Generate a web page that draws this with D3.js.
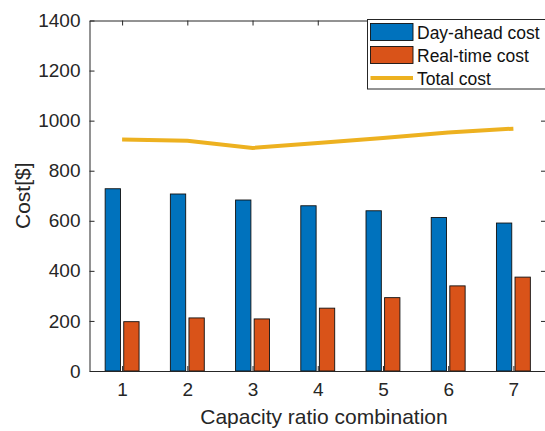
<!DOCTYPE html>
<html>
<head>
<meta charset="utf-8">
<script src="https://cdn.jsdelivr.net/npm/d3@7"></script>
<style>
  html, body { margin: 0; padding: 0; background: #fff; }
  svg { display: block; font-family: "Liberation Sans", Arial, sans-serif; }
</style>
</head>
<body>
<svg id="chart" width="545" height="431"></svg>
<script>
// combinations 1..7, costs in $
const combos    = [1, 2, 3, 4, 5, 6, 7];
const dayAhead  = [728, 707, 683, 660, 640, 613, 591];
const realTime  = [197, 212, 208, 251, 293, 340, 375];
const totalCost = [925, 920, 891, 911, 931, 953, 968];
const yTicks    = [0, 200, 400, 600, 800, 1000, 1200, 1400];

const BLUE = "#0072BD", ORANGE = "#D95319", YELLOW = "#EDB120", INK = "#262626";

const svg = d3.select("#chart");
const plot = { left: 89.5, right: 546, top: 20.5, bottom: 371 };

const x = d3.scaleLinear().domain([0.5, 7.5]).range([plot.left, plot.right]);
const y = d3.scaleLinear().domain([0, 1400]).range([plot.bottom, plot.top]);

// bars: day-ahead just left of the tick, real-time just right
const half = 0.025, w = 0.235;
const series = [
  { vals: dayAhead, color: BLUE,   x0: c => c - half - w },
  { vals: realTime, color: ORANGE, x0: c => c + half }
];
series.forEach(s => {
  svg.append("g").selectAll("rect").data(combos).join("rect")
    .attr("x", c => x(s.x0(c)))
    .attr("width", x(w) - x(0))
    .attr("y", (c, i) => y(s.vals[i]))
    .attr("height", (c, i) => y(0) - y(s.vals[i]))
    .attr("fill", s.color)
    .attr("stroke", "#111").attr("stroke-width", 0.9);
});

// total cost line
svg.append("path")
  .datum(combos)
  .attr("fill", "none").attr("stroke", YELLOW).attr("stroke-width", 4)
  .attr("d", d3.line().x(c => x(c)).y((c, i) => y(totalCost[i])));

// axes, matlab style: ticks inward and mirrored on top / right
const tick = 5;
const yAx = svg.append("g").attr("transform", `translate(${plot.left},0)`)
  .call(d3.axisLeft(y).tickValues(yTicks).tickFormat(d3.format("d"))
    .tickSizeInner(-tick).tickSizeOuter(0).tickPadding(9));
const xAx = svg.append("g").attr("transform", `translate(0,${plot.bottom})`)
  .call(d3.axisBottom(x).tickValues(combos).tickFormat(d3.format("d"))
    .tickSizeInner(-tick).tickSizeOuter(0).tickPadding(12));
const topAx = svg.append("g").attr("transform", `translate(0,${plot.top})`)
  .call(d3.axisTop(x).tickValues(combos).tickSizeInner(-tick).tickSizeOuter(0).tickFormat(""));
const rightAx = svg.append("g").attr("transform", `translate(${plot.right},0)`)
  .call(d3.axisRight(y).tickValues(yTicks).tickSizeInner(-tick).tickSizeOuter(0).tickFormat(""));

[yAx, xAx, topAx, rightAx].forEach(a => {
  a.select(".domain").attr("stroke", INK).attr("stroke-width", 1);
  a.selectAll(".tick line").attr("stroke", INK);
  a.selectAll("text").attr("fill", INK).attr("font-size", 19);
});

// axis titles
svg.append("text")
  .attr("x", 324).attr("y", 424)
  .attr("text-anchor", "middle").attr("font-size", 21).attr("fill", INK)
  .text("Capacity ratio combination");
svg.append("text")
  .attr("transform", `translate(30,${(plot.top + plot.bottom) / 2}) rotate(-90)`)
  .attr("text-anchor", "middle").attr("font-size", 21).attr("fill", INK)
  .text("Cost[$]");

// legend
const legend = [
  { name: "Day-ahead cost", color: BLUE,   kind: "bar" },
  { name: "Real-time cost", color: ORANGE, kind: "bar" },
  { name: "Total cost",     color: YELLOW, kind: "line" }
];
const lg = svg.append("g").attr("transform", "translate(367.5,19.5)");
lg.append("rect").attr("width", 190).attr("height", 69.5)
  .attr("fill", "#fff").attr("stroke", INK).attr("stroke-width", 1);
const item = lg.selectAll("g").data(legend).join("g")
  .attr("transform", (d, i) => `translate(0,${12.5 + i * 23})`);
item.filter(d => d.kind === "bar").append("rect")
  .attr("x", 3).attr("y", -8.5).attr("width", 42.5).attr("height", 17)
  .attr("fill", d => d.color).attr("stroke", "#111").attr("stroke-width", 0.9);
item.filter(d => d.kind === "line").append("line")
  .attr("x1", 3).attr("x2", 45.5).attr("y1", 0).attr("y2", 0)
  .attr("stroke", d => d.color).attr("stroke-width", 4);
item.append("text")
  .attr("x", 49.5).attr("y", 6.5)
  .attr("font-size", 17.5).attr("fill", "#111")
  .text(d => d.name);
</script>
</body>
</html>
